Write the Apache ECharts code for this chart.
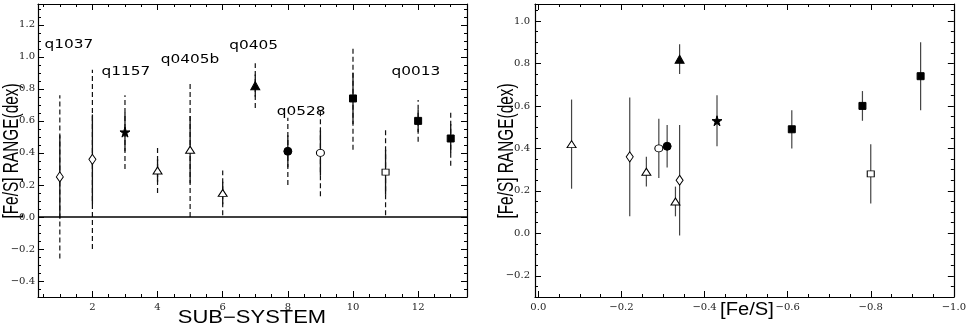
<!DOCTYPE html>
<html>
<head>
<meta charset="utf-8">
<script src="https://cdn.jsdelivr.net/npm/echarts@6/dist/echarts.min.js"></script>
<style>
  html, body { margin: 0; padding: 0; background: #fff; }
  #chart { width: 969px; height: 327px; }
</style>
</head>
<body>
<div id="chart"></div>
<script>
// sub-systems and their [Fe/S] range
const subSystem = [1, 2, 3, 4, 5, 6, 7, 8, 9, 10, 11, 12, 13];
const rangeDex = [0.25, 0.36, 0.53, 0.29, 0.42, 0.15, 0.82, 0.41, 0.40, 0.74, 0.28, 0.60, 0.49];
const errInner = [0.26, 0.28, 0.12, 0.07, 0.21, 0.07, 0.07, 0.10, 0.14, 0.16, 0.14, 0.07, 0.09];
const errOuter = [0.51, 0.56, 0.23, 0.14, 0.42, 0.14, 0.14, 0.21, 0.27, 0.32, 0.27, 0.13, 0.17];
const feS = [-0.34, -0.22, -0.43, -0.26, -0.08, -0.33, -0.34, -0.31, -0.29, -0.92, -0.80, -0.78, -0.61];
const markerKind = ['diamondOpen', 'diamondOpen', 'star', 'triangleOpen', 'triangleOpen', 'triangleOpen',
  'triangle', 'circle', 'circleOpen', 'square', 'squareOpen', 'square', 'square'];

// QSO names written over the left panel (anchor in data units)
const qsoNames = ['q1037', 'q1157', 'q0405b', 'q0405', 'q0528', 'q0013'];
const qsoAnchor = [[0.53, 1.075], [2.28, 0.905], [4.1, 0.98], [6.2, 1.07], [7.66, 0.66], [11.18, 0.905]];

// tick labels
const leftXTicks = [2, 4, 6, 8, 10, 12];
const leftYTicks = [-0.4, -0.2, 0.0, 0.2, 0.4, 0.6, 0.8, 1.0, 1.2];
const rightXTicks = [0.0, -0.2, -0.4, -0.6, -0.8, -1.0];
const rightYTicks = [-0.2, 0.0, 0.2, 0.4, 0.6, 0.8, 1.0];

const STAR = 'path://M50,0 L61,35 L98,35 L68,57 L79,91 L50,70 L21,91 L32,57 L2,35 L39,35 Z';
const markerStyle = {
  diamondOpen: { symbol: 'diamond', symbolSize: [7, 10], fill: '#fff' },
  star: { symbol: STAR, symbolSize: 10, fill: '#000' },
  triangleOpen: { symbol: 'triangle', symbolSize: [9, 7], fill: '#fff' },
  triangle: { symbol: 'triangle', symbolSize: [9, 8], fill: '#000' },
  circle: { symbol: 'circle', symbolSize: 8, fill: '#000' },
  circleOpen: { symbol: 'circle', symbolSize: [8, 7], fill: '#fff' },
  square: { symbol: 'rect', symbolSize: 7, fill: '#000' },
  squareOpen: { symbol: 'rect', symbolSize: [7, 6], fill: '#fff' }
};

function minorTicks(min, max, step, majors) {
  const out = [];
  const k0 = Math.ceil(min / step - 1e-9), k1 = Math.floor(max / step + 1e-9);
  for (let k = k0; k <= k1; k++) {
    const v = +(k * step).toFixed(4);
    if (!majors.some(m => Math.abs(m - v) < 1e-6)) out.push(v);
  }
  return out;
}

function fmt(d) {
  return v => (v < -1e-9 ? '\u2212' : '') + Math.abs(v).toFixed(d);
}

const labelFont = { fontFamily: 'DejaVu Serif', fontSize: 10, color: '#222' };

// one frame side pair = labelled axis + minor overlay + opposite side + its minor overlay
function axisSet(dim, gridIndex, min, max, majors, minors, formatter, inverse, margin) {
  const pos = dim === 'x' ? ['bottom', 'top'] : ['left', 'right'];
  const base = { type: 'value', gridIndex, min, max, inverse: !!inverse, splitLine: { show: false } };
  const line = { show: true, onZero: false, lineStyle: { color: '#000', width: 1.2 } };
  const major = { show: true, inside: true, length: 6, customValues: majors, lineStyle: { color: '#000', width: 1 } };
  const minor = { show: true, inside: true, length: 3, customValues: minors, lineStyle: { color: '#000', width: 1 } };
  return [
    Object.assign({}, base, { position: pos[0], axisLine: line, axisTick: major,
      axisLabel: Object.assign({ show: true, customValues: majors, formatter, margin }, labelFont) }),
    Object.assign({}, base, { position: pos[0], axisLine: { show: false, onZero: false }, axisTick: minor, axisLabel: { show: false } }),
    Object.assign({}, base, { position: pos[1], axisLine: line, axisTick: major, axisLabel: { show: false } }),
    Object.assign({}, base, { position: pos[1], axisLine: { show: false, onZero: false }, axisTick: minor, axisLabel: { show: false } })
  ];
}

const LX = [0.33, 13.5], LY = [-0.5, 1.33];
const RX = [-1.0, 0.008], RY = [-0.3, 1.08];

const xAxes = [].concat(
  axisSet('x', 0, LX[0], LX[1], leftXTicks, minorTicks(LX[0], LX[1], 0.5, leftXTicks), v => String(v), false, 5),
  axisSet('x', 1, RX[0], RX[1], rightXTicks, minorTicks(RX[0], RX[1], 0.05, rightXTicks), fmt(1), true, 5)
);
const yAxes = [].concat(
  axisSet('y', 0, LY[0], LY[1], leftYTicks, minorTicks(LY[0], LY[1], 0.05, leftYTicks), fmt(1), false, 3),
  axisSet('y', 1, RY[0], RY[1], rightYTicks, minorTicks(RY[0], RY[1], 0.05, rightYTicks), fmt(1), false, 5)
);

function errorBars(xIdx, yIdx, xs, inner, outer, color, width) {
  return {
    type: 'custom',
    xAxisIndex: xIdx,
    yAxisIndex: yIdx,
    z: 2,
    silent: true,
    data: xs.map((x, i) => [x, rangeDex[i], inner[i], outer ? outer[i] : 0]),
    encode: { x: 0, y: 1 },
    renderItem(params, api) {
      const x = api.value(0), y = api.value(1), e1 = api.value(2), e2 = api.value(3);
      const children = [];
      if (e2 > 0) {
        const a = api.coord([x, y - e2]), b = api.coord([x, y + e2]);
        children.push({ type: 'line', shape: { x1: a[0], y1: a[1], x2: b[0], y2: b[1] },
          style: { stroke: color, lineWidth: 1.2, lineDash: [5, 3] } });
      }
      const c = api.coord([x, y - e1]), d = api.coord([x, y + e1]);
      children.push({ type: 'line', shape: { x1: c[0], y1: c[1], x2: d[0], y2: d[1] },
        style: { stroke: color, lineWidth: width } });
      return { type: 'group', children };
    }
  };
}

function markers(xIdx, yIdx, xs) {
  return {
    type: 'scatter',
    xAxisIndex: xIdx,
    yAxisIndex: yIdx,
    z: 5,
    silent: true,
    data: xs.map((x, i) => {
      const m = markerStyle[markerKind[i]];
      return {
        value: [x, rangeDex[i]],
        symbol: m.symbol,
        symbolSize: m.symbolSize,
        itemStyle: { color: m.fill, borderColor: '#000', borderWidth: 1, opacity: 1 }
      };
    })
  };
}

const chart = echarts.init(document.getElementById('chart'), null, { renderer: 'canvas' });

const titleStyle = { fontFamily: 'Liberation Sans', fontSize: 19, fill: '#000', align: 'center', verticalAlign: 'middle' };

const option = {
  animation: false,
  backgroundColor: '#fff',
  grid: [
    { left: 38, top: 4, width: 429, height: 293 },
    { left: 535, top: 4, width: 424, height: 293 }
  ],
  xAxis: xAxes,
  yAxis: yAxes,
  series: [
    Object.assign(errorBars(0, 0, subSystem, errInner, errOuter, '#111', 1.3), {
      markLine: {
        silent: true, symbol: 'none', label: { show: false },
        lineStyle: { color: '#000', width: 1.6, type: 'solid' },
        data: [{ yAxis: 0 }]
      }
    }),
    markers(0, 0, subSystem),
    {
      type: 'custom',
      xAxisIndex: 0,
      yAxisIndex: 0,
      silent: true,
      z: 6,
      data: qsoAnchor.map((p, i) => [p[0], p[1], i]),
      encode: { x: 0, y: 1 },
      renderItem(params, api) {
        const p = api.coord([api.value(0), api.value(1)]);
        return {
          type: 'text', x: p[0], y: p[1], scaleX: 1.18,
          style: { text: qsoNames[api.value(2)], fontFamily: 'DejaVu Sans', fontSize: 13,
            fill: '#000', align: 'left', verticalAlign: 'middle' }
        };
      }
    },
    errorBars(4, 4, feS, errInner, null, '#444', 1.2),
    markers(4, 4, feS)
  ],
  graphic: [
    { type: 'text', x: 252, y: 318, scaleX: 1.22, silent: true,
      style: Object.assign({}, titleStyle, { text: 'SUB\u2212SYSTEM', fontSize: 18 }) },
    { type: 'text', x: 747, y: 310, scaleX: 1.12, silent: true,
      style: Object.assign({}, titleStyle, { text: '[Fe/S]', fontSize: 18 }) },
    { type: 'text', x: 12, y: 151, rotation: Math.PI / 2, scaleX: 0.7, silent: true,
      style: Object.assign({}, titleStyle, { text: '[Fe/S] RANGE(dex)', fontSize: 22 }) },
    { type: 'text', x: 507, y: 151, rotation: Math.PI / 2, scaleX: 0.7, silent: true,
      style: Object.assign({}, titleStyle, { text: '[Fe/S] RANGE(dex)', fontSize: 22 }) }
  ]
};

chart.setOption(option);
</script>
</body>
</html>
